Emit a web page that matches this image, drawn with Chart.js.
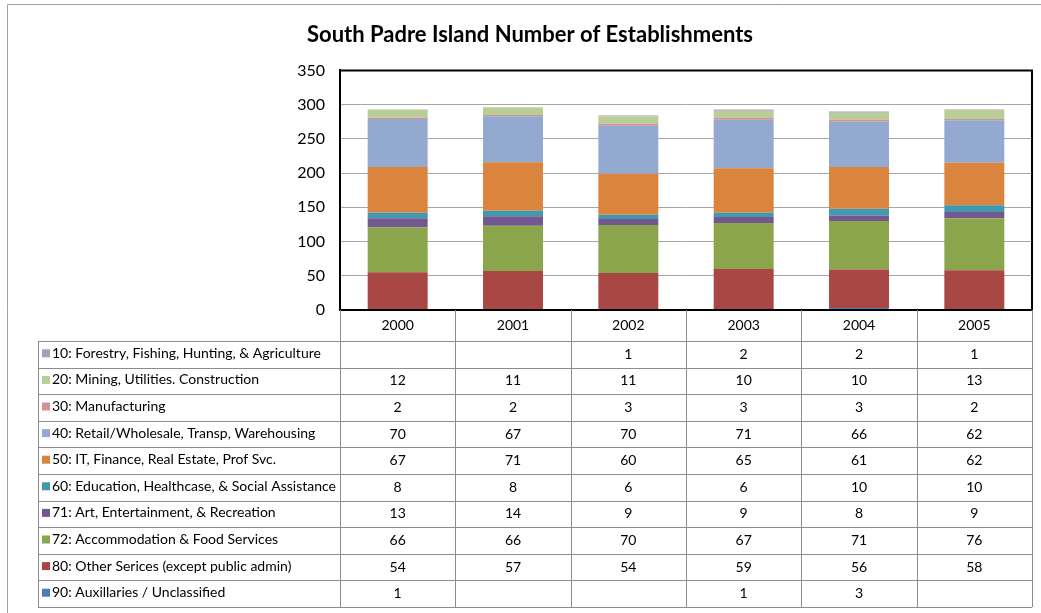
<!DOCTYPE html>
<html>
<head>
<meta charset="utf-8">
<script src="https://cdn.jsdelivr.net/npm/chart.js@4/dist/chart.umd.min.js"></script>
<style>
  body { margin: 0; background: #fff; }
  #wrap { position: relative; width: 1041px; height: 613px; }
</style>
</head>
<body>
<div id="wrap"><canvas id="myCanvasBarGraph" width="1041" height="613"></canvas></div>
<script>
var years = ["2000", "2001", "2002", "2003", "2004", "2005"];

// series, in the order of the data table (top row first)
var forestry     = [null, null, 1, 2, 2, 1];
var mining       = [12, 11, 11, 10, 10, 13];
var manufacture  = [2, 2, 3, 3, 3, 2];
var retail       = [70, 67, 70, 71, 66, 62];
var finance      = [67, 71, 60, 65, 61, 62];
var education    = [8, 8, 6, 6, 10, 10];
var art          = [13, 14, 9, 9, 8, 9];
var accommodation = [66, 66, 70, 67, 71, 76];
var otherServ    = [54, 57, 54, 59, 56, 58];
var auxillaries  = [1, null, null, 1, 3, null];

var seriesNames = [
	"10: Forestry, Fishing, Hunting, & Agriculture",
	"20: Mining, Utilities. Construction",
	"30: Manufacturing",
	"40: Retail/Wholesale, Transp, Warehousing",
	"50: IT, Finance, Real Estate, Prof Svc.",
	"60: Education, Healthcase, & Social Assistance",
	"71: Art, Entertainment, & Recreation",
	"72: Accommodation & Food Services",
	"80: Other Serices (except public admin)",
	"90: Auxillaries / Unclassified"
];
var seriesData = [forestry, mining, manufacture, retail, finance, education, art, accommodation, otherServ, auxillaries];
var seriesColors = ['#a99bbd', '#b9cd96', '#d19392', '#93a9cf', '#db843d', '#4198af', '#71588f', '#8ba54c', '#a94744', '#4a7ebb'];

var yTicks = [0, 50, 100, 150, 200, 250, 300, 350];

// bottom of the stack is the last table row
var datasets = [];
for (var i = seriesNames.length - 1; i >= 0; i--) {
	datasets.push({
		label: seriesNames[i],
		data: seriesData[i],
		backgroundColor: seriesColors[i],
		borderWidth: 0,
		categoryPercentage: 1,
		barPercentage: 0.52
	});
}

var font = "Lato, 'Open Sans', sans-serif";

var tablePlugin = {
	id: 'dataTable',
	afterDraw: function(chart){
		var ctx = chart.ctx;
		var area = chart.chartArea;
		var nCols = years.length;
		var colW = (area.right - area.left) / nCols;
		var labelLeft = 38;
		var headTop = area.bottom;
		var rowTop = 341;
		var rowH = 26.6;
		var nRows = seriesNames.length;
		var tableBottom = rowTop + rowH * nRows;

		ctx.save();
		// outer chart border
		ctx.strokeStyle = '#a0a0a0';
		ctx.lineWidth = 1;
		ctx.beginPath();
		ctx.moveTo(7.5, 700);
		ctx.lineTo(7.5, 4.5);
		ctx.lineTo(1100, 4.5);
		ctx.stroke();

		// plot frame top / right
		ctx.strokeStyle = '#000';
		ctx.lineWidth = 2;
		ctx.beginPath();
		ctx.moveTo(area.left, area.top);
		ctx.lineTo(area.right, area.top);
		ctx.lineTo(area.right, area.bottom);
		ctx.lineTo(area.left, area.bottom);
		ctx.stroke();

		// table grid
		ctx.strokeStyle = '#8c8c8c';
		ctx.lineWidth = 1;
		ctx.beginPath();
		for (var c = 0; c <= nCols; c++) {
			var x = Math.round(area.left + c * colW) + 0.5;
			ctx.moveTo(x, headTop);
			ctx.lineTo(x, tableBottom);
		}
		ctx.moveTo(labelLeft + 0.5, rowTop);
		ctx.lineTo(labelLeft + 0.5, tableBottom);
		for (var r = 0; r <= nRows; r++) {
			var y = Math.round(rowTop + r * rowH) + 0.5;
			ctx.moveTo(labelLeft, y);
			ctx.lineTo(area.right, y);
		}
		ctx.stroke();

		// header years
		ctx.fillStyle = '#000';
		ctx.font = "14px " + font;
		ctx.textAlign = 'center';
		ctx.textBaseline = 'middle';
		for (var c = 0; c < nCols; c++) {
			ctx.fillText(years[c], area.left + (c + 0.5) * colW, headTop + 15);
		}

		// rows
		for (var r = 0; r < nRows; r++) {
			var cy = rowTop + r * rowH + rowH / 2 - 1;
			ctx.fillStyle = seriesColors[r];
			ctx.fillRect(labelLeft + 4, cy - 4, 8, 8);
			ctx.fillStyle = '#000';
			ctx.textAlign = 'left';
			ctx.fillText(seriesNames[r], labelLeft + 14, cy);
			ctx.textAlign = 'center';
			for (var c = 0; c < nCols; c++) {
				var v = seriesData[r][c];
				if (v !== null) ctx.fillText(String(v), area.left + (c + 0.5) * colW, cy + 1);
			}
		}
		ctx.restore();
	}
};

var ctx = document.getElementById('myCanvasBarGraph');
var BarGraph = new Chart(ctx, {
	type: 'bar',
	data: { labels: years, datasets: datasets },
	options: {
		responsive: false,
		animation: false,
		layout: { padding: { left: 28, right: 9, top: 0, bottom: 303 } },
		plugins: {
			legend: { display: false },
			tooltip: { enabled: false },
			title: {
				display: true,
				text: 'South Padre Island Number of Establishments',
				color: '#000',
				font: { family: font, size: 22, weight: 'bold' },
				padding: { top: 22, bottom: 22 }
			}
		},
		scales: {
			x: { stacked: true, display: false },
			y: {
				stacked: true,
				min: 0,
				max: 350,
				afterBuildTicks: function(scale){
					scale.ticks = yTicks.map(function(v){ return { value: v }; });
				},
				afterFit: function(scale){ scale.width = 312; },
				grid: { color: '#a6a6a6', lineWidth: 1, drawTicks: false },
				border: { color: '#000', width: 2 },
				ticks: { color: '#000', padding: 15, font: { family: font, size: 16 } }
			}
		}
	},
	plugins: [tablePlugin]
});
</script>
</body>
</html>
